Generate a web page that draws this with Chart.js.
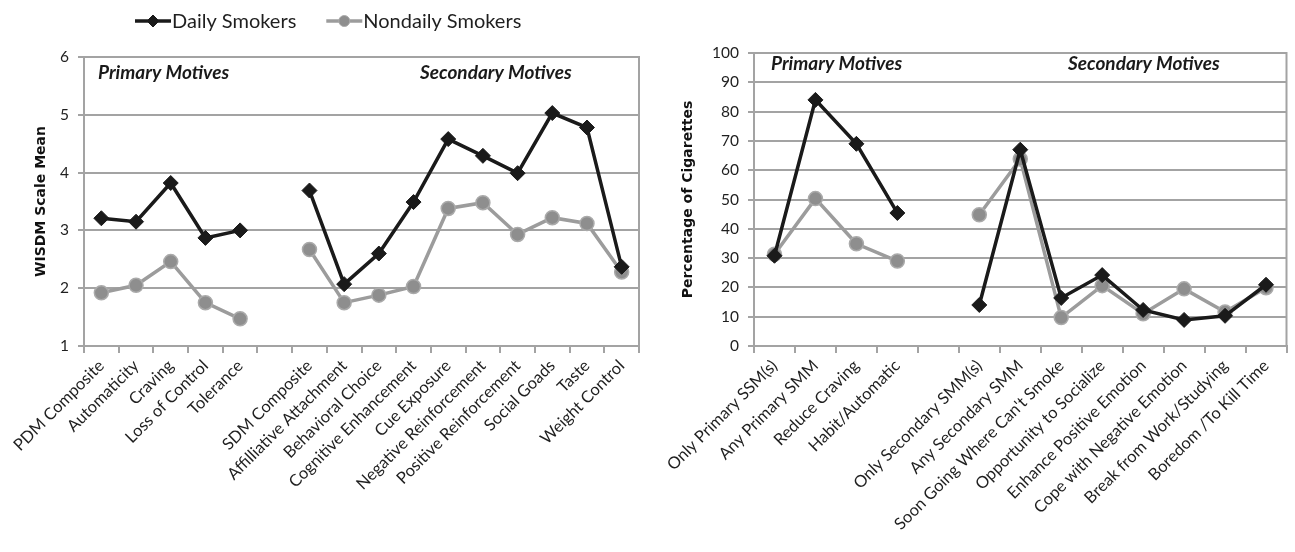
<!DOCTYPE html>
<html lang="en">
<head>
<meta charset="UTF-8" />
<script src="https://cdn.jsdelivr.net/npm/chart.js@4.4.1/dist/chart.umd.min.js"></script>
<title>WISDM and smoking motives</title>
<style>
  body { margin: 0; background: #fff; }
  #left { position: absolute; left: 0; top: 0; }
  #right { position: absolute; left: 650px; top: 0; }
</style>
</head>
<body>
<canvas id="left" width="650" height="552"></canvas>
<canvas id="right" width="645" height="552"></canvas>
<script>
// left panel: WISDM scale means
const wisdmLabels = ["PDM Composite", "Automaticity", "Craving", "Loss of Control", "Tolerance", "",
  "SDM Composite", "Affilliative Attachment", "Behavioral Choice", "Cognitive Enhancement", "Cue Exposure",
  "Negative Reinforcement", "Positive Reinforcement", "Social Goads", "Taste", "Weight Control"];
const wisdmDaily = [3.21, 3.15, 3.82, 2.87, 3.0, null, 3.69, 2.07, 2.6, 3.49, 4.58, 4.29, 3.99, 5.03, 4.78, 2.37];
const wisdmNondaily = [1.92, 2.05, 2.46, 1.75, 1.47, null, 2.67, 1.75, 1.88, 2.03, 3.38, 3.48, 2.93, 3.22, 3.12, 2.28];

// right panel: percentage of cigarettes
const cigLabels = ["Only Primary SSM(s)", "Any Primary SMM", "Reduce Craving", "Habit/Automatic", "",
  "Only Secondary SMM(s)", "Any Secondary SMM", "Soon Going Where Can't Smoke", "Opportunity to Socialize",
  "Enhance Positive Emotion", "Cope with Negative Emotion", "Break from Work/Studying", "Boredom /To Kill Time"];
const cigDaily = [30.8, 84, 69, 45.4, null, 14, 67, 16.4, 24.2, 12.3, 8.9, 10.3, 20.9];
const cigNondaily = [31.3, 50.3, 34.9, 29, null, 44.8, 63.8, 9.7, 20.6, 11, 19.5, 11.6, 19.9];

const seriesNames = ["Daily Smokers", "Nondaily Smokers"];
const sectionNames = ["Primary Motives", "Secondary Motives"];

const gridColor = "#a3a3a3";
const textColor = "#1f1f1f";
const fontFam = "Lato, 'Open Sans', sans-serif";

function makeDatasets(daily, nondaily) {
  return [
    {
      label: seriesNames[0], data: daily,
      borderColor: "#1a1a1a", backgroundColor: "#1a1a1a", borderWidth: 3.5,
      pointStyle: "rectRot", pointRadius: 7.5, pointBorderWidth: 1,
      pointBackgroundColor: "#1a1a1a", pointBorderColor: "#1a1a1a",
      spanGaps: false, tension: 0
    },
    {
      label: seriesNames[1], data: nondaily,
      borderColor: "#9c9c9c", backgroundColor: "#8c8c8c", borderWidth: 3.5,
      pointStyle: "circle", pointRadius: 7, pointBorderWidth: 1.5,
      pointBackgroundColor: "#8e8e8e", pointBorderColor: "#aaaaaa",
      spanGaps: false, tension: 0
    }
  ];
}

// plot area border
const framePlugin = {
  id: "frame",
  beforeDatasetsDraw(chart) {
    const a = chart.chartArea, ctx = chart.ctx;
    ctx.save();
    ctx.strokeStyle = gridColor;
    ctx.lineWidth = 2;
    ctx.strokeRect(a.left, a.top, a.right - a.left, a.bottom - a.top);
    ctx.restore();
  }
};

// "Primary Motives" / "Secondary Motives" captions
const sectionPlugin = {
  id: "sections",
  afterDraw(chart, args, opts) {
    const a = chart.chartArea, ctx = chart.ctx;
    ctx.save();
    ctx.font = "italic bold 19px " + fontFam;
    ctx.fillStyle = "#1a1a1a";
    ctx.textBaseline = "middle";
    ctx.textAlign = "left";
    sectionNames.forEach((t, i) => {
      ctx.fillText(t, a.left + opts.dx[i], a.top + opts.dy);
    });
    ctx.restore();
  }
};

// excel style legend: line with marker in the middle
const lineLegendPlugin = {
  id: "lineLegend",
  afterDraw(chart, args, opts) {
    if (!opts.display) return;
    const ctx = chart.ctx;
    let x = opts.x;
    const y = opts.y;
    ctx.save();
    ctx.font = "20px " + fontFam;
    ctx.textBaseline = "middle";
    chart.data.datasets.forEach(ds => {
      ctx.strokeStyle = ds.borderColor;
      ctx.lineWidth = 3.5;
      ctx.beginPath();
      ctx.moveTo(x, y);
      ctx.lineTo(x + 36, y);
      ctx.stroke();
      const cx = x + 18;
      ctx.fillStyle = ds.pointBackgroundColor;
      ctx.strokeStyle = ds.pointBorderColor;
      ctx.lineWidth = 1;
      ctx.beginPath();
      if (ds.pointStyle === "rectRot") {
        ctx.moveTo(cx - 6, y); ctx.lineTo(cx, y - 6); ctx.lineTo(cx + 6, y); ctx.lineTo(cx, y + 6);
        ctx.closePath();
      } else {
        ctx.arc(cx, y, 5.5, 0, Math.PI * 2);
      }
      ctx.fill();
      ctx.stroke();
      ctx.fillStyle = textColor;
      ctx.fillText(ds.label, x + 37, y + 1);
      x += 37 + ctx.measureText(ds.label).width + opts.gap;
    });
    ctx.restore();
  }
};

function makeOptions(cfg) {
  return {
    responsive: false,
    animation: false,
    layout: { padding: { top: cfg.top, right: cfg.right, left: 0, bottom: 0 } },
    plugins: {
      legend: { display: false },
      tooltip: { enabled: false },
      sections: { dx: cfg.sectionX, dy: cfg.sectionY },
      lineLegend: { display: cfg.legend, x: 135, y: 21, gap: 30 }
    },
    scales: {
      x: {
        offset: true,
        grid: { offset: true, drawOnChartArea: false, drawTicks: true, tickLength: 7, color: gridColor, lineWidth: 2 },
        border: { display: true, color: gridColor, width: 2 },
        ticks: { autoSkip: false, minRotation: 45, maxRotation: 45, padding: 3, color: textColor,
          font: { family: fontFam, size: 16.5 } },
        afterFit: s => { s.height = cfg.xHeight; }
      },
      y: {
        min: cfg.min, max: cfg.max,
        ticks: { stepSize: cfg.step, padding: 9, color: textColor, font: { family: fontFam, size: 15.5 } },
        grid: { color: gridColor, lineWidth: 2, tickLength: 6 },
        border: { display: true, color: gridColor, width: 2 },
        title: { display: true, text: cfg.title, color: "#111",
          font: { family: "'DejaVu Sans', sans-serif", size: 14, weight: "bold" },
          padding: { top: cfg.titlePad, bottom: 0 } },
        afterFit: s => { s.width = cfg.yWidth; }
      }
    }
  };
}

new Chart(document.getElementById("left"), {
  type: "line",
  data: { labels: wisdmLabels, datasets: makeDatasets(wisdmDaily, wisdmNondaily) },
  options: makeOptions({
    top: 57, right: 11, xHeight: 206, yWidth: 84, titlePad: 33,
    min: 1, max: 6, step: 1, title: "WISDM Scale Mean",
    sectionX: [14, 336], sectionY: 16, legend: true
  }),
  plugins: [framePlugin, sectionPlugin, lineLegendPlugin]
});

new Chart(document.getElementById("right"), {
  type: "line",
  data: { labels: cigLabels, datasets: makeDatasets(cigDaily, cigNondaily) },
  options: makeOptions({
    top: 53, right: 4, xHeight: 206, yWidth: 104, titlePad: 30,
    min: 0, max: 100, step: 10, title: "Percentage of Cigarettes",
    sectionX: [17, 314], sectionY: 11, legend: false
  }),
  plugins: [framePlugin, sectionPlugin, lineLegendPlugin]
});
</script>
</body>
</html>
